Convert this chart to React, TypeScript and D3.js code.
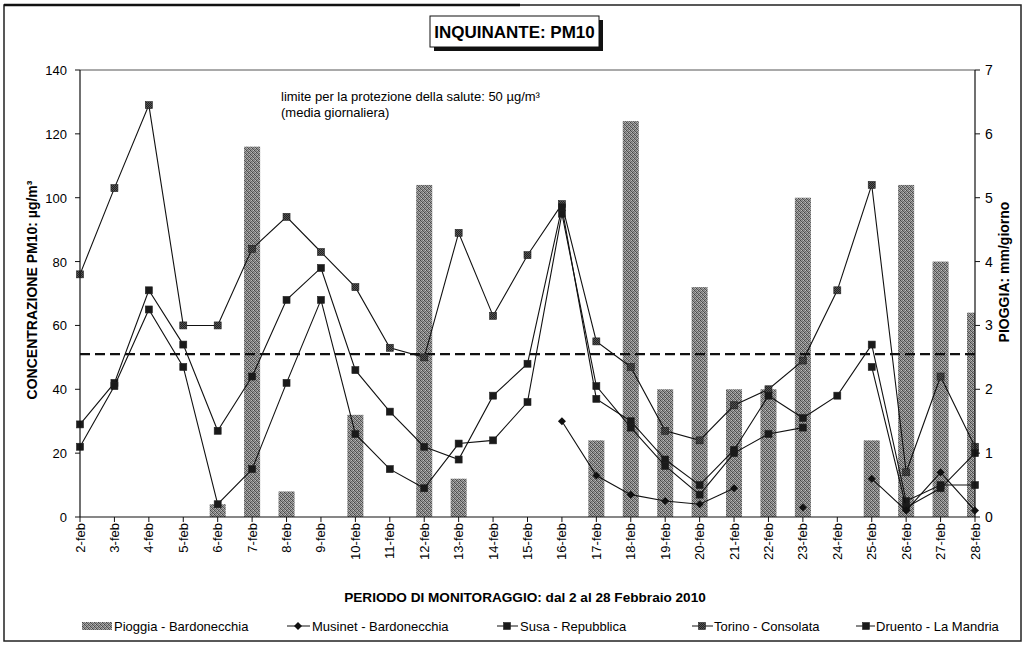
import React from "react";
import * as d3 from "d3";

const dates = ["2-feb","3-feb","4-feb","5-feb","6-feb","7-feb","8-feb","9-feb","10-feb","11-feb","12-feb","13-feb","14-feb","15-feb","16-feb","17-feb","18-feb","19-feb","20-feb","21-feb","22-feb","23-feb","24-feb","25-feb","26-feb","27-feb","28-feb"];
const pioggia = [0,0,0,0,0.2,5.8,0.4,0,1.6,0,5.2,0.6,0,0,0,1.2,6.2,2.0,3.6,2.0,2.0,5.0,0,1.2,5.2,4.0,3.2];
const musinet: (number|null)[] = [null,null,null,null,null,null,null,null,null,null,null,null,null,null,30,13,7,5,4,9,null,3,null,12,2,14,2];
const susa: (number|null)[] = [22,41,65,47,4,15,42,68,26,15,9,23,24,36,95,41,28,16,7,20,26,28,null,47,3,9,20];
const torino: (number|null)[] = [76,103,129,60,60,84,94,83,72,53,50,89,63,82,98,55,47,27,24,35,40,49,71,104,14,44,22];
const druento: (number|null)[] = [29,42,71,54,27,44,68,78,46,33,22,18,38,48,97,37,30,18,10,21,38,31,38,54,5,10,10];
const leftTicks = [0,20,40,60,80,100,120,140];
const rightTicks = [0,1,2,3,4,5,6,7];
const limite = 51;

const FONT = "'Liberation Sans', Arial, sans-serif";

export default function App() {
  const L = 80, R = 975, T = 70, B = 517;
  const x = d3.scalePoint<string>().domain(dates).range([L, R]);
  const yL = d3.scaleLinear().domain([0, 140]).range([B, T]);
  const yR = d3.scaleLinear().domain([0, 7]).range([B, T]);
  const barW = 16;

  const line = d3.line<number|null>()
    .defined(d => d !== null)
    .x((_, i) => x(dates[i]) as number)
    .y(d => yL(d as number));

  const series = [
    { name: "Torino - Consolata", data: torino, marker: "sqgray" },
    { name: "Druento - La Mandria", data: druento, marker: "sq" },
    { name: "Susa - Repubblica", data: susa, marker: "sq" },
    { name: "Musinet - Bardonecchia", data: musinet, marker: "dia" },
  ];

  const marker = (type: string, cx: number, cy: number, key: string) => {
    if (type === "dia") {
      return <path key={key} d={`M${cx},${cy-4}L${cx+4},${cy}L${cx},${cy+4}L${cx-4},${cy}Z`} fill="#111" />;
    }
    return <rect key={key} x={cx-3.5} y={cy-3.5} width={7} height={7} fill={type === "sqgray" ? "url(#mk)" : "#1a1a1a"} stroke="#222" strokeWidth={0.6} />;
  };

  const dots: [number, number, string][] = [
    [0,0,"#444"],[2,0,"#777"],[1,1,"#555"],[3,1,"#666"],[0,2,"#777"],[2,2,"#444"],[1,3,"#666"],[3,3,"#555"],[3,0,"#bbb"],[1,2,"#c0c0c0"]
  ];

  return (
    <svg width={1025} height={648} style={{ position: "absolute", left: 0, top: 0, background: "#fff" }}>
      <defs>
        <pattern id="hatch" width="4" height="4" patternUnits="userSpaceOnUse">
          <rect width="4" height="4" fill="#9c9c9c" />
          {dots.map(([dx, dy, c], k) => <rect key={k} x={dx} y={dy} width={1} height={1} fill={c} />)}
        </pattern>
        <pattern id="mk" width="2" height="2" patternUnits="userSpaceOnUse">
          <rect width="2" height="2" fill="#555" />
          <rect width="1" height="1" fill="#222" />
          <rect x="1" y="1" width="1" height="1" fill="#222" />
        </pattern>
        <clipPath id="plot"><rect x={L} y={T} width={R - L} height={B - T} /></clipPath>
      </defs>
      {/* outer frame */}
      <rect x={4} y={5} width={1017} height={636} fill="none" stroke="#222" strokeWidth={1.5} />
      <line x1={4} y1={5} x2={520} y2={5} stroke="#111" strokeWidth={2.5} />

      {/* title box */}
      <rect x={434} y={20} width={169} height={31} fill="#111" />
      <rect x={430} y={16} width={169} height={31} fill="#fff" stroke="#111" strokeWidth={1} />
      <text x={514.5} y={38} textAnchor="middle" fontFamily={FONT} fontWeight="bold" fontSize={17}>INQUINANTE: PM10</text>

      {/* plot top line */}
      <line x1={L} y1={T} x2={R} y2={T} stroke="#555" strokeWidth={1} />

      {/* bars */}
      <g clipPath="url(#plot)">
        {pioggia.map((v, i) => v > 0 ? (
          <rect key={i} x={(x(dates[i]) as number) - barW / 2} y={yR(v)} width={barW} height={B - yR(v)} fill="url(#hatch)" />
        ) : null)}
      </g>

      {/* limit line */}
      <line x1={L} y1={yL(limite)} x2={R} y2={yL(limite)} stroke="#111" strokeWidth={2.2} strokeDasharray="10,5" />

      {/* series */}
      {series.map((s, si) => (
        <g key={si}>
          <path d={line(s.data) || ""} fill="none" stroke="#111" strokeWidth={1.1} />
          {s.data.map((v, i) => v === null ? null : marker(s.marker, x(dates[i]) as number, yL(v), `${si}-${i}`))}
        </g>
      ))}

      {/* axes */}
      <line x1={L} y1={T} x2={L} y2={B} stroke="#111" strokeWidth={1.2} />
      <line x1={R} y1={T} x2={R} y2={B} stroke="#111" strokeWidth={1.2} />
      <line x1={L} y1={B} x2={R} y2={B} stroke="#111" strokeWidth={1.2} />
      {leftTicks.map(t => (
        <g key={t}>
          <line x1={L - 5} y1={yL(t)} x2={L} y2={yL(t)} stroke="#111" />
          <text x={L - 13} y={yL(t) + 5} textAnchor="end" fontFamily={FONT} fontSize={13}>{t}</text>
        </g>
      ))}
      {rightTicks.map(t => (
        <g key={t}>
          <line x1={R} y1={yR(t)} x2={R + 5} y2={yR(t)} stroke="#111" />
          <text x={R + 10} y={yR(t) + 5} textAnchor="start" fontFamily={FONT} fontSize={14}>{t}</text>
        </g>
      ))}
      {dates.map(d => (
        <g key={d}>
          <line x1={x(d) as number} y1={B} x2={x(d) as number} y2={B + 5} stroke="#111" />
          <text transform={`translate(${(x(d) as number) + 4.5},${B + 6}) rotate(-90)`} textAnchor="end" fontFamily={FONT} fontSize={13}>{d}</text>
        </g>
      ))}

      {/* axis titles */}
      <text transform={`translate(37,290) rotate(-90)`} textAnchor="middle" fontFamily={FONT} fontWeight="bold" fontSize={14}>CONCENTRAZIONE PM10: µg/m³</text>
      <text transform={`translate(1009,272) rotate(-90)`} textAnchor="middle" fontFamily={FONT} fontWeight="bold" fontSize={14}>PIOGGIA: mm/giorno</text>
      <text x={525} y={602} textAnchor="middle" fontFamily={FONT} fontWeight="bold" fontSize={13.6}>PERIODO DI MONITORAGGIO: dal 2 al 28 Febbraio 2010</text>

      {/* annotation */}
      <text x={281} y={101} fontFamily={FONT} fontSize={13}>limite per la protezione della salute: 50 µg/m³</text>
      <text x={281} y={117} fontFamily={FONT} fontSize={13}>(media giornaliera)</text>

      {/* legend */}
      <g fontFamily={FONT} fontSize={13}>
        <rect x={82} y={622} width={30} height={8} fill="url(#hatch)" />
        <text x={114} y={631}>Pioggia - Bardonecchia</text>
        <line x1={287} y1={626} x2={310} y2={626} stroke="#111" />
        {marker("dia", 298, 626, "lg1")}
        <text x={312} y={631}>Musinet - Bardonecchia</text>
        <line x1={497} y1={626} x2={518} y2={626} stroke="#111" />
        {marker("sq", 507, 626, "lg2")}
        <text x={520} y={631}>Susa - Repubblica</text>
        <line x1={692} y1={626} x2={713} y2={626} stroke="#111" />
        {marker("sqgray", 702, 626, "lg3")}
        <text x={714} y={631}>Torino - Consolata</text>
        <line x1={856} y1={626} x2={875} y2={626} stroke="#111" />
        {marker("sq", 866, 626, "lg4")}
        <text x={876} y={631}>Druento - La Mandria</text>
      </g>
    </svg>
  );
}
